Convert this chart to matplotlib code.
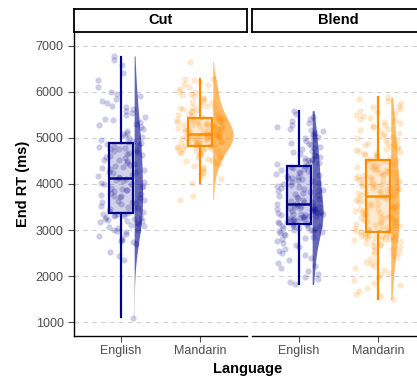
import numpy as np
import matplotlib
matplotlib.use("Agg")
import matplotlib.pyplot as plt

plt.rcParams['font.family'] = ['Liberation Sans', 'DejaVu Sans']

facets = ['Cut', 'Blend']
languages = ['English', 'Mandarin']
yticks = [1000, 2000, 3000, 4000, 5000, 6000, 7000]

# end RT (ms) per trial
cut_english = [
    1100, 2350, 2440, 2520, 2690, 2740, 2770, 2790, 2830, 2880,
    2920, 2950, 2970, 3000, 3010, 3040, 3060, 3090, 3110, 3130,
    3150, 3170, 3190, 3200, 3220, 3240, 3250, 3270, 3290, 3300,
    3310, 3330, 3340, 3350, 3360,
    3380, 3400, 3420, 3450, 3470, 3490, 3510, 3530, 3560, 3580,
    3600, 3620, 3640, 3660, 3690, 3710, 3730, 3750, 3770, 3790,
    3810, 3840, 3860, 3880, 3900, 3920, 3940, 3960, 3990, 4010,
    4030, 4050, 4070, 4090, 4110,
    4130, 4150, 4180, 4200, 4230, 4250, 4270, 4300, 4320, 4350,
    4370, 4390, 4420, 4440, 4460, 4490, 4510, 4530, 4560, 4580,
    4600, 4620, 4650, 4670, 4690, 4710, 4730, 4750, 4770, 4790,
    4810, 4830, 4850, 4870, 4890,
    4910, 4930, 4960, 4990, 5020, 5050, 5080, 5110, 5150, 5190,
    5230, 5270, 5300, 5340, 5380, 5420, 5460, 5500, 5540, 5580,
    5620, 5660, 5700, 5750, 5800, 5850, 5900, 5950, 6000, 6100,
    6250, 6400, 6590, 6700, 6780,
]
cut_mandarin = [
    3660, 3750, 4030, 4100, 4180, 4230, 4280, 4320, 4360, 4400,
    4430, 4460, 4490, 4520, 4540, 4560, 4590, 4610, 4630, 4650,
    4670, 4680, 4700, 4710, 4720, 4740, 4750, 4760, 4770, 4780,
    4790, 4800, 4810, 4820, 4825,
    4835, 4840, 4850, 4860, 4870, 4880, 4890, 4900, 4910, 4920,
    4930, 4940, 4950, 4960, 4970, 4980, 4990, 5000, 5005, 5010,
    5015, 5020, 5025, 5030, 5035, 5040, 5045, 5050, 5055, 5060,
    5065, 5070, 5075, 5080, 5085,
    5095, 5100, 5110, 5120, 5130, 5140, 5150, 5160, 5170, 5180,
    5190, 5200, 5210, 5220, 5230, 5240, 5250, 5260, 5270, 5280,
    5290, 5300, 5310, 5320, 5330, 5340, 5350, 5360, 5370, 5380,
    5390, 5400, 5410, 5420, 5435,
    5445, 5460, 5470, 5480, 5500, 5520, 5540, 5560, 5580, 5600,
    5620, 5640, 5660, 5680, 5700, 5720, 5750, 5780, 5810, 5840,
    5870, 5900, 5930, 5960, 5990, 6020, 6060, 6100, 6140, 6180,
    6220, 6250, 6270, 6280, 6650,
]
blend_english = [
    1820, 1870, 1930, 1990, 2050, 2110, 2170, 2230, 2290, 2350,
    2400, 2450, 2500, 2550, 2600, 2640, 2680, 2720, 2760, 2800,
    2830, 2860, 2890, 2910, 2930, 2950, 2970, 2990, 3000, 3010,
    3030, 3040, 3050, 3060, 3070, 3080, 3090, 3100, 3115, 3130,
    3150, 3160, 3170, 3185, 3200, 3210, 3220, 3230, 3245, 3260,
    3270, 3280, 3290, 3300, 3310, 3320, 3330, 3340, 3350, 3360,
    3370, 3380, 3390, 3400, 3410, 3420, 3430, 3440, 3450, 3460,
    3470, 3480, 3490, 3500, 3510, 3520, 3530, 3540, 3550, 3565,
    3580, 3600, 3620, 3640, 3660, 3680, 3700, 3720, 3740, 3760,
    3780, 3800, 3820, 3840, 3860, 3880, 3900, 3920, 3940, 3960,
    3980, 4000, 4020, 4040, 4060, 4080, 4100, 4120, 4140, 4160,
    4180, 4200, 4220, 4240, 4260, 4280, 4300, 4320, 4340, 4370,
    4390, 4410, 4430, 4450, 4470, 4490, 4510, 4530, 4550, 4570,
    4590, 4610, 4630, 4660, 4690, 4720, 4750, 4780, 4810, 4840,
    4870, 4900, 4930, 4960, 4990, 5020, 5050, 5080, 5110, 5140,
    5170, 5200, 5240, 5280, 5320, 5360, 5400, 5450, 5520, 5590,
]
blend_mandarin = [
    1500, 1560, 1620, 1680, 1740, 1800, 1860, 1920, 1980, 2030,
    2080, 2130, 2180, 2220, 2260, 2300, 2340, 2380, 2420, 2460,
    2490, 2520, 2550, 2580, 2610, 2640, 2660, 2680, 2700, 2720,
    2740, 2760, 2780, 2790, 2800, 2810, 2820, 2830, 2840, 2850,
    2860, 2870, 2880, 2890, 2900, 2910, 2920, 2930, 2940, 2950,
    2970, 2985, 3000, 3015, 3030, 3045, 3060, 3075, 3090, 3105,
    3120, 3135, 3150, 3165, 3180, 3195, 3210, 3225, 3240, 3255,
    3270, 3285, 3300, 3315, 3330, 3345, 3360, 3375, 3390, 3405,
    3420, 3435, 3450, 3465, 3480, 3495, 3510, 3525, 3540, 3555,
    3570, 3590, 3610, 3630, 3650, 3665, 3680, 3695, 3710, 3720,
    3740, 3755, 3770, 3785, 3800, 3815, 3830, 3845, 3860, 3875,
    3890, 3905, 3920, 3935, 3950, 3965, 3980, 3995, 4010, 4025,
    4040, 4055, 4070, 4085, 4100, 4115, 4130, 4145, 4160, 4175,
    4190, 4205, 4220, 4235, 4250, 4265, 4280, 4295, 4310, 4325,
    4340, 4360, 4380, 4400, 4420, 4440, 4460, 4480, 4490, 4500,
    4520, 4540, 4560, 4580, 4600, 4620, 4640, 4660, 4680, 4700,
    4720, 4740, 4760, 4780, 4800, 4820, 4840, 4860, 4880, 4900,
    4930, 4960, 4990, 5020, 5050, 5080, 5110, 5140, 5170, 5200,
    5230, 5260, 5290, 5320, 5350, 5380, 5410, 5440, 5470, 5500,
    5530, 5560, 5590, 5620, 5660, 5700, 5750, 5800, 5850, 5880,
]

# boxplot stats: whisker low, q1, median, q3, whisker high
cut_english_box = [1110, 3370, 4120, 4900, 6760]
cut_mandarin_box = [4030, 4830, 5090, 5440, 6280]
blend_english_box = [1820, 3140, 3570, 4380, 5590]
blend_mandarin_box = [1500, 2960, 3730, 4510, 5880]

points = {'Cut': [cut_english, cut_mandarin],
          'Blend': [blend_english, blend_mandarin]}
boxes = {'Cut': [cut_english_box, cut_mandarin_box],
         'Blend': [blend_english_box, blend_mandarin_box]}
colors = ['#00008B', '#FF8C00']


def kde(values, grid, adjust=1.4):
    v = np.asarray(values, float)
    n = len(v)
    iqr = np.subtract(*np.percentile(v, [75, 25]))
    bw = adjust * 0.9 * min(v.std(ddof=1), iqr / 1.34) * n ** -0.2
    z = (grid[:, None] - v[None, :]) / bw
    return np.exp(-0.5 * z**2).sum(axis=1) / (n * bw * np.sqrt(2 * np.pi))


def spread(n, seed):
    # fixed scatter offsets in [-0.5, 0.5), same every run
    i = np.arange(n) + 1.0
    return (np.sin(i * 12.9898 + seed * 78.233) * 43758.5453) % 1 - 0.5


# densities first, so that violins share one area scale
dens = {}
for f in facets:
    for i in range(2):
        v = points[f][i]
        g = np.linspace(min(v), max(v), 200)
        dens[(f, i)] = (g, kde(v, g))
dmax = max(d.max() for g, d in dens.values())

fig = plt.figure(figsize=(4.17, 3.79), dpi=100)
W, H = 417, 379
pan_w = 173
pan_bottom = 1 - 335.7 / H
pan_h = (335.7 - 31.7) / H
lefts = [74, 252]

for k, f in enumerate(facets):
    ax = fig.add_axes([lefts[k] / W, pan_bottom, pan_w / W, pan_h])
    for y in yticks:
        ax.axhline(y, color='#d0d0d0', lw=0.8, ls=(0, (4, 4)), zorder=0)

    for i in range(2):
        pos = i + 1
        c = colors[i]
        g, d = dens[(f, i)]
        ax.fill_betweenx(g, pos + 0.165, pos + 0.165 + d / dmax * 0.26,
                         color=c, alpha=0.6, lw=0, zorder=1)

        v = np.asarray(points[f][i], float)
        jit = spread(len(v), 2 * k + i + 1) * 0.6
        ax.scatter(pos + jit, v, s=20, color=c, alpha=0.2, lw=0, zorder=2)

        lo, q1, med, q3, hi = boxes[f][i]
        st = [dict(whislo=lo, q1=q1, med=med, q3=q3, whishi=hi, fliers=[])]
        ax.bxp(st, positions=[pos], widths=0.3, showfliers=False,
               showcaps=False, patch_artist=True,
               boxprops=dict(facecolor=(c, 0.18), edgecolor=c, lw=1.6),
               medianprops=dict(color=c, lw=1.8),
               whiskerprops=dict(color=c, lw=1.6), zorder=3)

    ax.set_xlim(0.4, 2.6)
    ax.set_ylim(709, 7304)
    ax.set_xticks([1, 2])
    ax.set_xticklabels(languages)
    ax.set_yticks(yticks)
    ax.tick_params(labelsize=9, colors='#4d4d4d', length=4, width=0.8,
                   labelcolor='#4d4d4d')
    ax.tick_params(axis='x', pad=3)
    for s in ['top', 'right']:
        ax.spines[s].set_visible(False)
    ax.spines['bottom'].set_linewidth(1.0)
    ax.spines['left'].set_linewidth(1.0)
    if k == 1:
        ax.spines['left'].set_visible(False)
        ax.tick_params(axis='y', left=False, labelleft=False)

    sax = fig.add_axes([lefts[k] / W, 1 - 31.7 / H, pan_w / W, 22.4 / H])
    sax.set_xticks([])
    sax.set_yticks([])
    for s in sax.spines.values():
        s.set_linewidth(1.3)
        s.set_color('black')
    sax.text(0.5, 0.5, f, ha='center', va='center', fontsize=10.5,
             fontweight='bold', transform=sax.transAxes)

fig.text(23 / W, 1 - 183.5 / H, 'End RT (ms)', rotation=90, ha='center',
         va='center', fontsize=10.5, fontweight='bold')
fig.text(248 / W, 1 - 369 / H, 'Language', ha='center', va='center',
         fontsize=10.5, fontweight='bold')

fig.savefig('out.png', dpi=100)
plt.close(fig)
